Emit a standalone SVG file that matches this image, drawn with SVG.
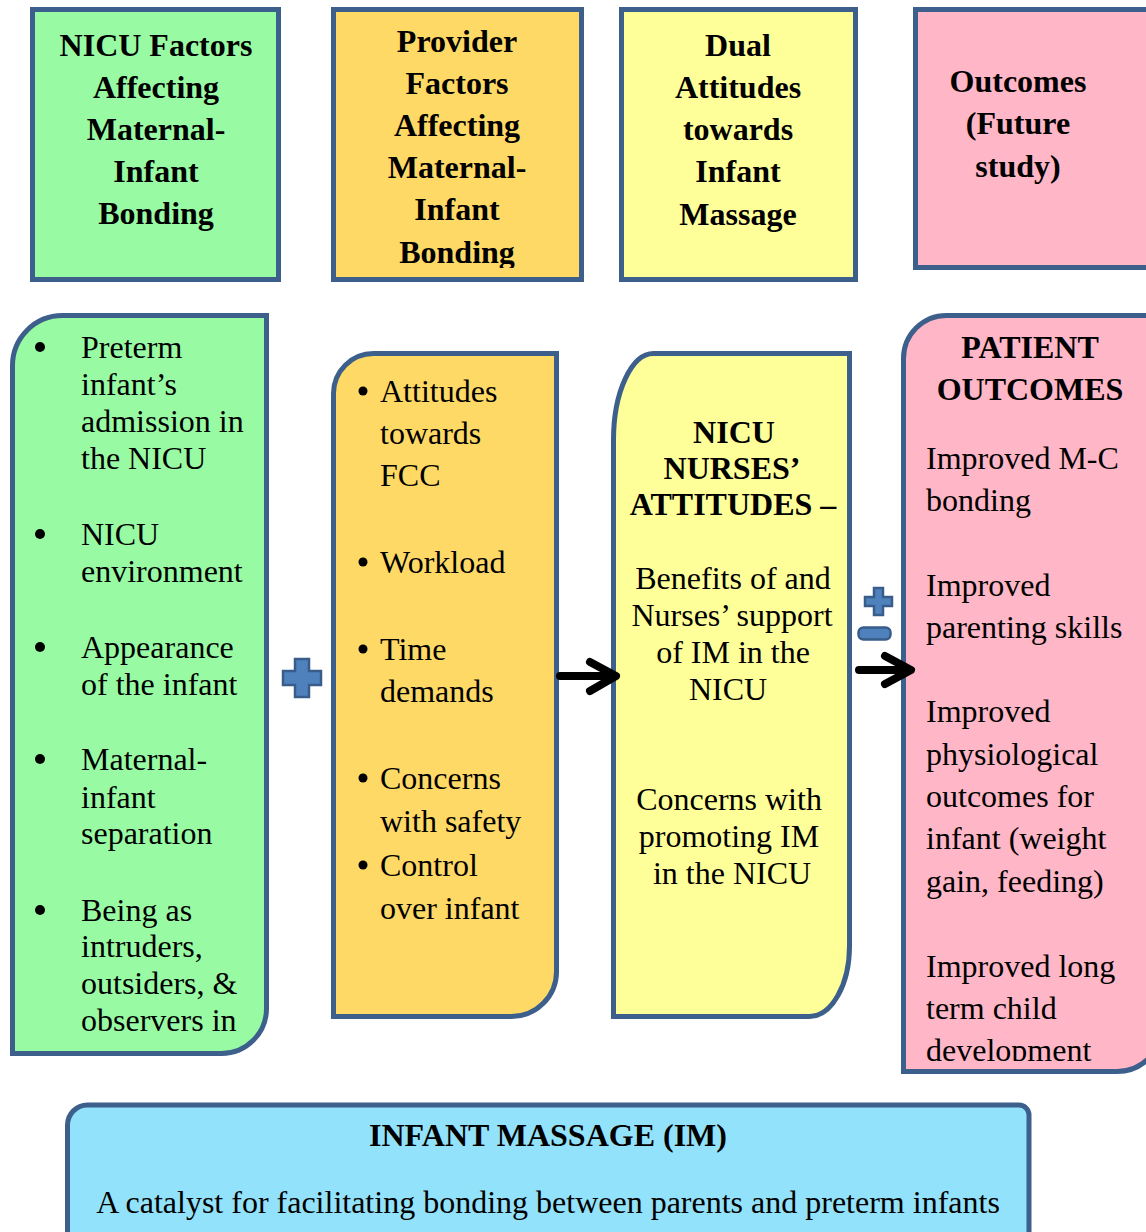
<svg xmlns="http://www.w3.org/2000/svg" width="1146" height="1232" viewBox="0 0 1146 1232">
<style>
.box{stroke:#3c5f8c;stroke-width:5}
.g{fill:#98fba4}.o{fill:#ffd966}.y{fill:#ffff99}.p{fill:#ffb6c6}.b{fill:#93e2fb}
text{font-family:"Liberation Serif","Times New Roman",serif;font-size:32px;fill:#000}
.hb{font-weight:bold;text-anchor:middle}
.c{text-anchor:middle}
.sym{fill:#4f81bd;stroke:#385d8a;stroke-width:2.5}
.arr{fill:none;stroke:#000;stroke-width:8;stroke-linecap:round;stroke-linejoin:round}
</style>
<defs>
<clipPath id="clipOT"><rect x="335" y="10" width="246" height="258"/></clipPath>
<clipPath id="clipPM"><rect x="904" y="316" width="260" height="745"/></clipPath>
</defs>
<rect width="1146" height="1232" fill="#fff"/>

<g id="top-nicu">
<rect class="box g" x="32.5" y="9.5" width="246" height="270"/>
<text class="hb" x="156" y="56">NICU Factors</text>
<text class="hb" x="156" y="98">Affecting</text>
<text class="hb" x="156" y="140">Maternal-</text>
<text class="hb" x="156" y="182">Infant</text>
<text class="hb" x="156" y="224">Bonding</text>
</g>

<g id="top-provider">
<rect class="box o" x="333.5" y="9.5" width="248" height="270"/>
<g clip-path="url(#clipOT)">
<text class="hb" x="457" y="52">Provider</text>
<text class="hb" x="457" y="94">Factors</text>
<text class="hb" x="457" y="136">Affecting</text>
<text class="hb" x="457" y="178">Maternal-</text>
<text class="hb" x="457" y="220">Infant</text>
<text class="hb" x="457" y="263">Bonding</text>
</g>
</g>

<g id="top-dual">
<rect class="box y" x="621.5" y="9.5" width="234" height="270"/>
<text class="hb" x="738" y="56">Dual</text>
<text class="hb" x="738" y="98">Attitudes</text>
<text class="hb" x="738" y="140">towards</text>
<text class="hb" x="738" y="182">Infant</text>
<text class="hb" x="738" y="225">Massage</text>
</g>

<g id="top-outcomes">
<rect class="box p" x="915.5" y="9.5" width="240" height="258"/>
<text class="hb" x="1018" y="92">Outcomes</text>
<text class="hb" x="1018" y="134">(Future</text>
<text class="hb" x="1018" y="177">study)</text>
</g>

<g id="nicu-factors">
<path class="box g" d="M12.5,365.5 A50,50 0 0 1 62.5,315.5 H266.5 V1008.5 A45,45 0 0 1 221.5,1053.5 H12.5 Z"/>
<g fill="#000">
<circle cx="40" cy="347" r="5"/><circle cx="40" cy="534" r="5"/><circle cx="40" cy="647" r="5"/><circle cx="40" cy="759" r="5"/><circle cx="40" cy="910" r="5"/>
</g>
<text x="81" y="358">Preterm</text>
<text x="81" y="395">infant’s</text>
<text x="81" y="432">admission in</text>
<text x="81" y="469">the NICU</text>
<text x="81" y="545">NICU</text>
<text x="81" y="582">environment</text>
<text x="81" y="658">Appearance</text>
<text x="81" y="695">of the infant</text>
<text x="81" y="770">Maternal-</text>
<text x="81" y="808">infant</text>
<text x="81" y="844">separation</text>
<text x="81" y="921">Being as</text>
<text x="81" y="957">intruders,</text>
<text x="81" y="994">outsiders, &amp;</text>
<text x="81" y="1031">observers in</text>
</g>

<g id="provider-factors">
<path class="box o" d="M333.5,393.5 A40,40 0 0 1 373.5,353.5 H556.5 V971.5 A45,45 0 0 1 511.5,1016.5 H333.5 Z"/>
<g fill="#000">
<circle cx="363" cy="391" r="4.5"/><circle cx="363" cy="562" r="4.5"/><circle cx="363" cy="649" r="4.5"/><circle cx="363" cy="778" r="4.5"/><circle cx="363" cy="865" r="4.5"/>
</g>
<text x="380" y="402">Attitudes</text>
<text x="380" y="444">towards</text>
<text x="380" y="486">FCC</text>
<text x="380" y="573">Workload</text>
<text x="380" y="660">Time</text>
<text x="380" y="702">demands</text>
<text x="380" y="789">Concerns</text>
<text x="380" y="832">with safety</text>
<text x="380" y="876">Control</text>
<text x="380" y="919">over infant</text>
</g>

<g id="nurses-attitudes">
<path class="box y" d="M613.5,440 A40,86.5 0 0 1 653.5,353.5 H849.5 V946 A40,70.5 0 0 1 809.5,1016.5 H613.5 Z"/>
<text class="hb" x="734" y="443">NICU</text>
<text class="hb" x="732" y="479">NURSES’</text>
<text class="hb" x="733" y="515">ATTITUDES –</text>
<text class="c" x="733" y="589">Benefits of and</text>
<text class="c" x="732" y="626">Nurses’ support</text>
<text class="c" x="733" y="663">of IM in the</text>
<text class="c" x="728" y="700">NICU</text>
<text class="c" x="729" y="810">Concerns with</text>
<text class="c" x="729" y="847">promoting IM</text>
<text class="c" x="732" y="884">in the NICU</text>
</g>

<g id="patient-outcomes">
<path class="box p" d="M903.5,358.5 A43,43 0 0 1 946.5,315.5 H1162 V1026 A45,45 0 0 1 1117,1071.5 H903.5 Z"/>
<text class="hb" x="1030" y="358">PATIENT</text>
<text class="hb" x="1030" y="400">OUTCOMES</text>
<g clip-path="url(#clipPM)">
<text x="926" y="469">Improved M-C</text>
<text x="926" y="511">bonding</text>
<text x="926" y="596">Improved</text>
<text x="926" y="638">parenting skills</text>
<text x="926" y="722">Improved</text>
<text x="926" y="765">physiological</text>
<text x="926" y="807">outcomes for</text>
<text x="926" y="849">infant (weight</text>
<text x="926" y="892">gain, feeding)</text>
<text x="926" y="977">Improved long</text>
<text x="926" y="1019">term child</text>
<text x="926" y="1061">development</text>
</g>
</g>

<g id="infant-massage">
<path class="box b" d="M67.5,1245 V1125 A20,20 0 0 1 87.5,1105 H1019 A10,10 0 0 1 1029,1115 V1245 Z"/>
<text class="hb" x="548" y="1146">INFANT MASSAGE (IM)</text>
<text class="c" x="548" y="1213">A catalyst for facilitating bonding between parents and preterm infants</text>
</g>

<g id="connectors">
<path class="sym" d="M295,659 H309 V671 H321 V685 H309 V697 H295 V685 H283 V671 H295 Z"/>
<path class="sym" d="M874,588 H883 V597 H892 V606 H883 V615 H874 V606 H865 V597 H874 Z"/>
<rect class="sym" x="858.5" y="627.5" width="32" height="12" rx="5"/>
<path class="arr" d="M560,676 H614 M590,662 L616,676 L590,691"/>
<path class="arr" d="M859,670 H909 M885,656 L911,670 L885,684"/>
</g>
</svg>
